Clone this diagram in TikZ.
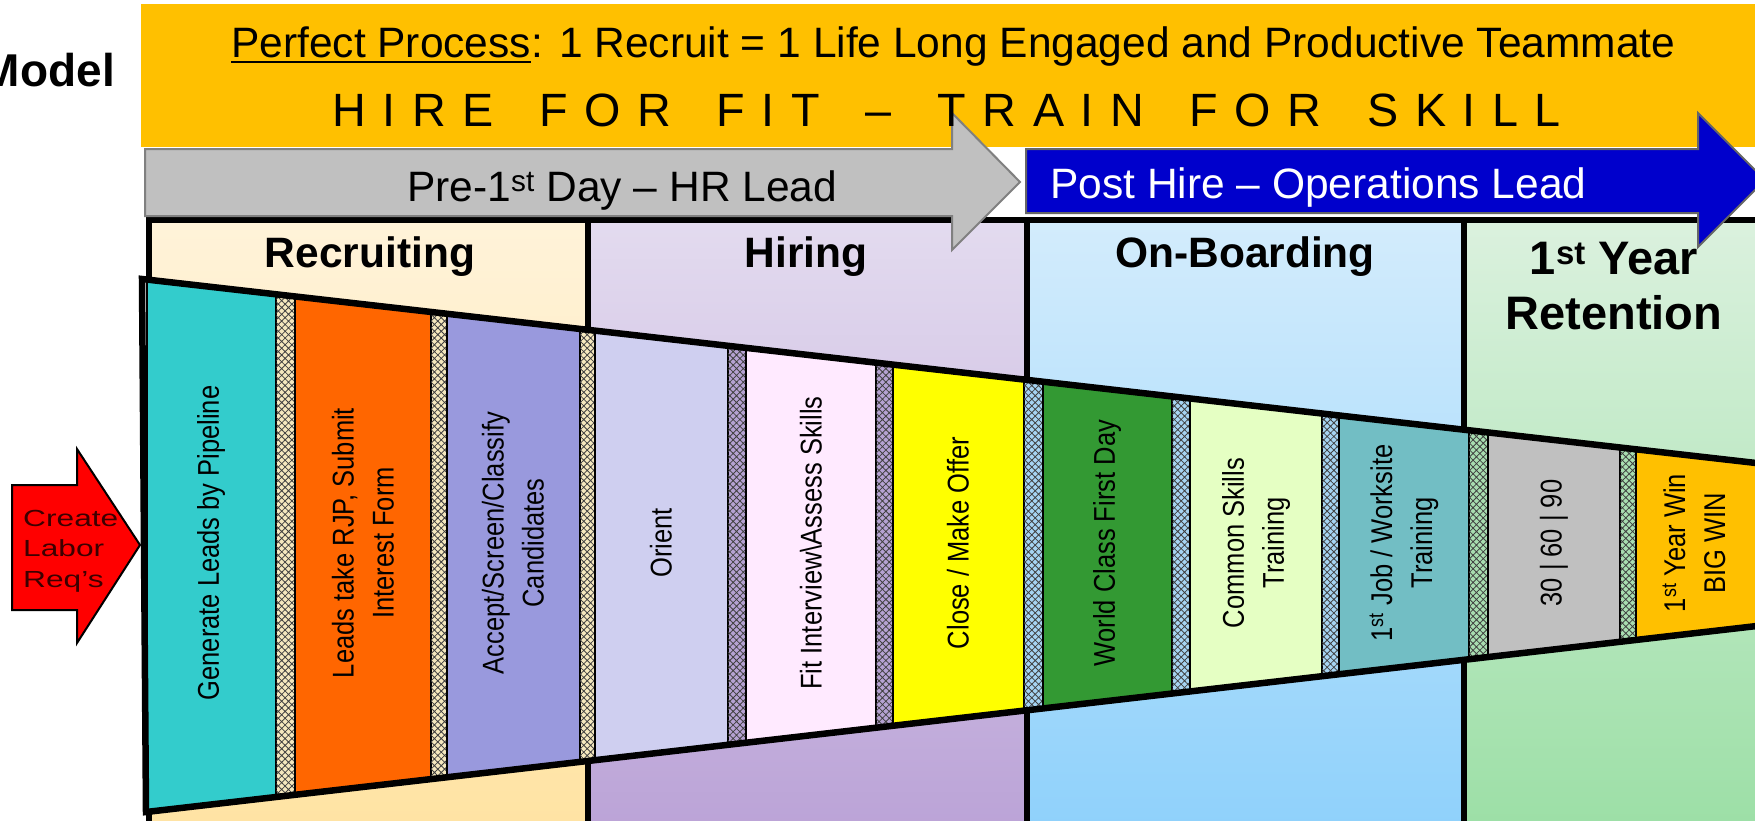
\documentclass[tikz,border=0pt]{standalone}
\usepackage{fontspec}
\setmainfont{Liberation Sans}
\newfontfamily\narrowfont{Liberation Sans}[FakeStretch=0.85]
\newfontfamily\widefont{Liberation Sans}[FakeStretch=1.36]
\newfontfamily\spacedfont{Liberation Sans}[LetterSpace=35.5,WordSpace=1.55]
\usepackage{tikz}
\usepackage{xcolor}
\usetikzlibrary{patterns.meta}

\definecolor{banner}{RGB}{255,192,0}
\definecolor{grayarrow}{RGB}{192,192,192}
\definecolor{bluearrow}{RGB}{0,0,204}
\definecolor{recrTop}{RGB}{255,243,217}
\definecolor{recrBot}{RGB}{255,227,163}
\definecolor{hireTop}{RGB}{227,219,239}
\definecolor{hireBot}{RGB}{187,163,215}
\definecolor{onbTop}{RGB}{211,236,252}
\definecolor{onbBot}{RGB}{143,209,251}
\definecolor{retTop}{RGB}{219,241,222}
\definecolor{retBot}{RGB}{156,223,166}
\definecolor{sepRecr}{RGB}{245,232,190}
\definecolor{sepHire}{RGB}{181,162,210}
\definecolor{sepOnb}{RGB}{166,212,242}
\definecolor{sepRet}{RGB}{168,221,176}
\definecolor{cGen}{RGB}{51,204,204}
\definecolor{cLeads}{RGB}{255,102,0}
\definecolor{cAccept}{RGB}{153,153,221}
\definecolor{cOrient}{RGB}{207,207,240}
\definecolor{cFit}{RGB}{255,234,255}
\definecolor{cClose}{RGB}{255,255,0}
\definecolor{cWorld}{RGB}{51,153,51}
\definecolor{cCommon}{RGB}{229,255,195}
\definecolor{cJob}{RGB}{114,190,196}
\definecolor{cDays}{RGB}{192,192,192}
\definecolor{cWin}{RGB}{255,192,0}
\definecolor{reqtext}{RGB}{60,0,0}

\begin{document}
\begin{tikzpicture}[x=1pt, y=-1pt,
	blk/.style={draw=black, line width=2.5pt},
	sepbar/.style={draw=black, line width=2.5pt, postaction={pattern={Hatch[angle=45,distance=4.8pt,line width=0.8pt]}, pattern color=black!75}},
	wall/.style={line width=6.5pt},
	lbl/.style={rotate=90, inner sep=0pt, align=center, font=\narrowfont\fontsize{30}{40}\selectfont},
	head/.style={anchor=base, inner sep=0pt, font=\bfseries\fontsize{42.5}{50}\selectfont},
	bar/.style={anchor=base west, inner sep=0pt, font=\fontsize{42.5}{50}\selectfont}]
				\useasboundingbox (0,0) rectangle (1755,820);
				\clip (0,0) rectangle (1755,820);
				\fill[white] (0,0) rectangle (1755,820);
				%Titulo
				\node[anchor=base east, inner sep=0pt, font=\bfseries\fontsize{46}{50}\selectfont] (model) at (115,86) {Model};
				\fill[banner] (141,4) rectangle (1800,147);
				%Secciones
				\shade[top color=recrTop, bottom color=recrBot] (149,220) rectangle (588,830);
				\shade[top color=hireTop, bottom color=hireBot] (588,220) rectangle (1027,830);
				\shade[top color=onbTop, bottom color=onbBot] (1027,220) rectangle (1464,830);
				\shade[top color=retTop, bottom color=retBot] (1464,220) rectangle (1800,830);
				\draw[wall] (149,830) -- (149,220) -- (1800,220);
				\draw[wall] (588,220) -- (588,830);
				\draw[wall] (1027,220) -- (1027,830);
				\draw[wall] (1464,220) -- (1464,830);
				%Flechas
				\draw[fill=grayarrow, draw=black!50, line width=2pt] (145,149) -- (952,149) -- (952,113) -- (1020,182) -- (952,250) -- (952,216) -- (145,216) -- cycle;
				\draw[fill=bluearrow, draw=black!60, line width=2pt] (1026,149) -- (1698,149) -- (1698,113) -- (1765,180) -- (1698,247) -- (1698,213) -- (1026,213) -- cycle;
				%Embudo
				\begin{scope}
					\clip (142,279) -- (1800,468) -- (1800,621) -- (146,812) -- cycle;
					\draw[blk, fill=cGen] (147,200) rectangle (276,900);
					\draw[sepbar, fill=sepRecr] (276,200) rectangle (295,900);
					\draw[blk, fill=cLeads] (295,200) rectangle (431,900);
					\draw[sepbar, fill=sepRecr] (431,200) rectangle (447,900);
					\draw[blk, fill=cAccept] (447,200) rectangle (580,900);
					\draw[sepbar, fill=sepRecr] (580,200) rectangle (595,900);
					\draw[blk, fill=cOrient] (595,200) rectangle (728,900);
					\draw[sepbar, fill=sepHire] (728,200) rectangle (746,900);
					\draw[blk, fill=cFit] (746,200) rectangle (876,900);
					\draw[sepbar, fill=sepHire] (876,200) rectangle (893,900);
					\draw[blk, fill=cClose] (893,200) rectangle (1024,900);
					\draw[sepbar, fill=sepOnb] (1024,200) rectangle (1043,900);
					\draw[blk, fill=cWorld] (1043,200) rectangle (1172,900);
					\draw[sepbar, fill=sepOnb] (1172,200) rectangle (1190,900);
					\draw[blk, fill=cCommon] (1190,200) rectangle (1322,900);
					\draw[sepbar, fill=sepOnb] (1322,200) rectangle (1339,900);
					\draw[blk, fill=cJob] (1339,200) rectangle (1469,900);
					\draw[sepbar, fill=sepRet] (1469,200) rectangle (1488,900);
					\draw[blk, fill=cDays] (1488,200) rectangle (1620,900);
					\draw[sepbar, fill=sepRet] (1620,200) rectangle (1636,900);
					\draw[blk, fill=cWin] (1636,200) rectangle (1810,900);
				\end{scope}
				\draw[wall] (1800,468) -- (142,279) -- (146,812) -- (1800,621);
				%Requisicion
				\draw[fill=red, line width=2pt] (12,485) -- (77,485) -- (77,449) -- (140,545) -- (77,643) -- (77,610) -- (12,610) -- cycle;
				\node[anchor=west, align=left, inner sep=0pt, text=reqtext, font=\widefont\fontsize{23.3}{30.5}\selectfont] (req) at (23,551) {Create\\Labor\\Req’s};
				%Textos
				\node[bar] (pp) at (231,57) {Perfect Process};
				\node[bar] (title) at (pp.base east) {: 1 Recruit = 1 Life Long Engaged and Productive Teammate};
				\draw[line width=2.5pt] ([yshift=-5pt]pp.base west) -- ([yshift=-5pt]pp.base east);
				\node[bar, font=\spacedfont\fontsize{46.7}{50}\selectfont] (motto) at (332,126) {HIRE FOR FIT – TRAIN FOR SKILL};
				\node[bar] (pre) at (407,201) {Pre-1\textsuperscript{st} Day – HR Lead};
				\node[bar, text=white] (post) at (1050,198) {Post Hire – Operations Lead};
				\node[head] (recr) at (370,267) {Recruiting};
				\node[head] (hire) at (806,267) {Hiring};
				\node[head] (onb) at (1245,267) {On-Boarding};
				\node[head, font=\bfseries\fontsize{47}{55}\selectfont] (ret1) at (1614,274) {1\textsuperscript{st} Year};
				\node[head, font=\bfseries\fontsize{47}{55}\selectfont] (ret2) at (1614,329) {Retention};
				%Etapas
				\node[lbl] (b1) at (211,543) {Generate Leads by Pipeline};
				\node[lbl] (b2) at (363,543) {Leads take RJP, Submit\\Interest Form};
				\node[lbl] (b3) at (513,543) {Accept/Screen/Classify\\Candidates};
				\node[lbl] (b4) at (661,543) {Orient};
				\node[lbl] (b5) at (811,543) {Fit Interview\textbackslash Assess Skills};
				\node[lbl] (b6) at (958,543) {Close / Make Offer};
				\node[lbl] (b7) at (1107,543) {World Class First Day};
				\node[lbl] (b8) at (1256,543) {Common Skills\\Training};
				\node[lbl] (b9) at (1404,543) {1\textsuperscript{st} Job / Worksite\\Training};
				\node[lbl] (b10) at (1554,543) {30 | 60 | 90};
				\node[lbl] (b11) at (1694,543) {1\textsuperscript{st} Year Win\\BIG WIN};
\end{tikzpicture}
\end{document}
